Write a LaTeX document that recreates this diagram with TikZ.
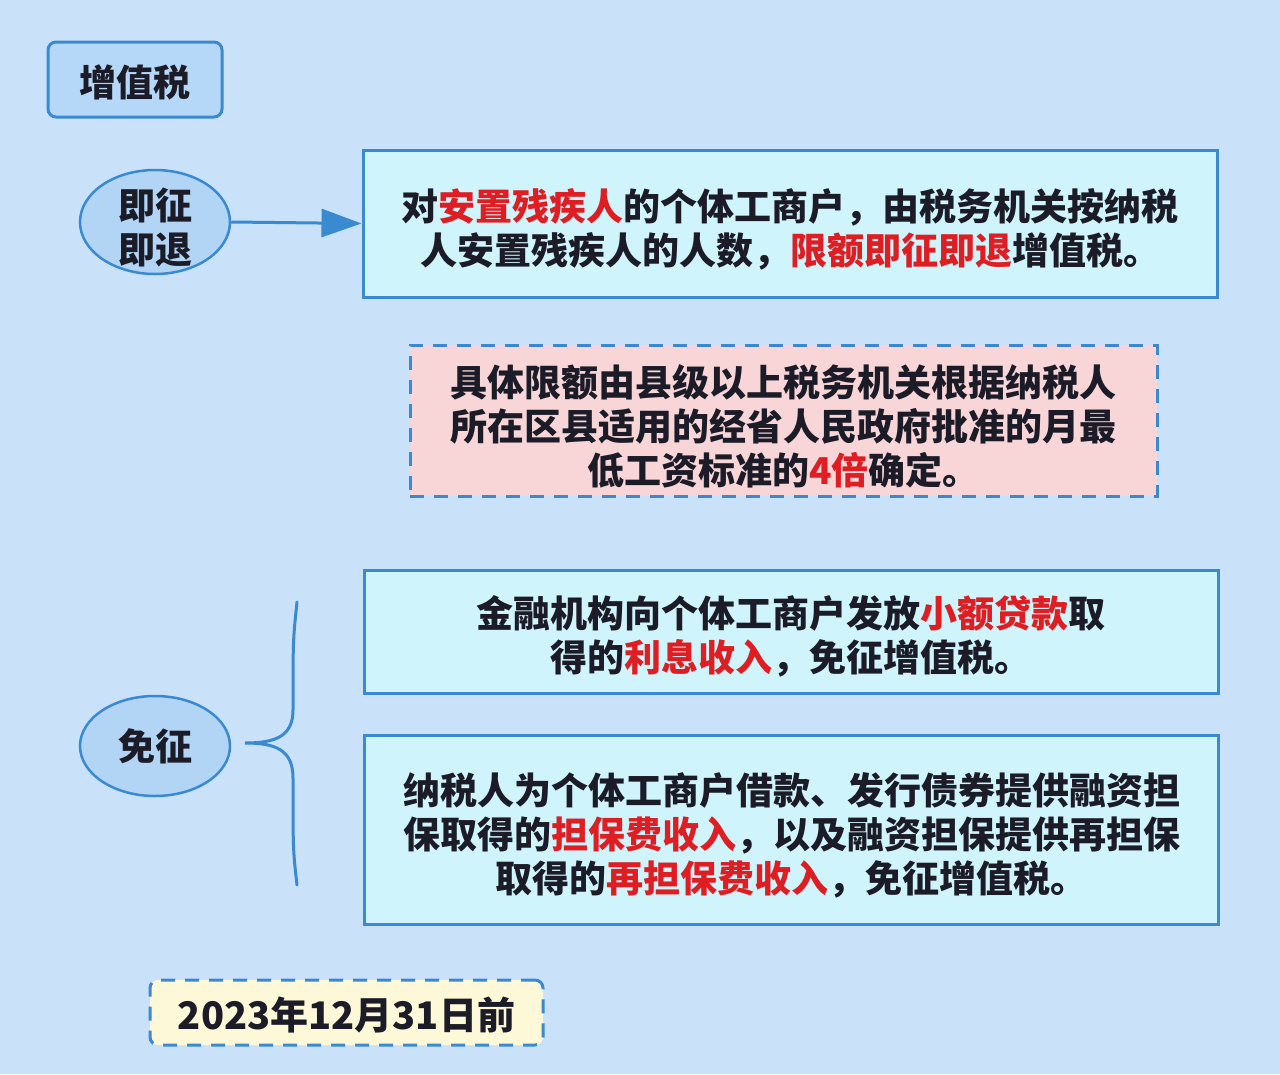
\documentclass[tikz,border=0pt]{standalone}
\usepackage{fontspec}
\setmainfont{Noto Sans CJK SC}
\usetikzlibrary{shapes.geometric,arrows.meta}
\definecolor{bg}{RGB}{201,226,250}
\definecolor{edge}{RGB}{58,138,210}
\definecolor{boxfill}{RGB}{208,244,252}
\definecolor{ellfill}{RGB}{178,213,246}
\definecolor{tagfill}{RGB}{182,216,248}
\definecolor{pinkfill}{RGB}{248,214,216}
\definecolor{yellowfill}{RGB}{252,248,216}
\definecolor{ink}{RGB}{28,28,40}
\definecolor{hl}{RGB}{222,30,34}
\newcommand{\hlt}[1]{\textcolor{hl}{#1}}
\tikzset{
  txt/.style={text=ink,font=\bfseries\fontsize{37}{44}\selectfont,align=center,inner sep=0pt},
  solidbox/.style={draw=edge,line width=3pt,fill=boxfill,minimum width=854pt,inner sep=0pt},
  dashbox/.style={draw=edge,line width=3pt,dash pattern=on 14pt off 10pt,inner sep=0pt},
  ellnode/.style={ellipse,draw=edge,line width=2.5pt,fill=ellfill,minimum width=150pt,minimum height=104pt,inner sep=0pt},
  arrowline/.style={draw=edge,line width=3pt,-{Triangle[length=40pt,width=28pt]}},
  bracestyle/.style={draw=edge,line width=3pt,line cap=round}
}
\begin{document}
\begin{tikzpicture}[x=1pt,y=-1pt]
\fill[bg] (0,0) rectangle (1280,1074);
\useasboundingbox (0,0) rectangle (1280,1074);

\node[draw=edge,line width=3pt,fill=tagfill,rounded corners=8pt,minimum width=174pt,minimum height=75pt] (vat) at (135,79.5) {};
\node[txt] (vatt) at (135,82.5) {增值税};

\node[ellnode] (e1) at (155,222) {};
\node[txt] (e1t) at (155,228) {即征\\即退};
\node[solidbox,minimum height=147pt] (b1) at (790,223.5) {};
\node[txt] (b1t) at (790,229.5)
  {对\hlt{安置残疾人}的个体工商户，由税务机关按纳税\\人安置残疾人的人数，\hlt{限额即征即退}增值税。};
\draw[arrowline] (e1.east) -- (b1.west);

\node[dashbox,fill=pinkfill,minimum width=747pt,minimum height=151pt] (pk) at (783.5,420.5) {};
\node[txt] (pkt) at (783.5,426.5)
  {具体限额由县级以上税务机关根据纳税人\\所在区县适用的经省人民政府批准的月最\\低工资标准的\hlt{4倍}确定。};

\node[ellnode,minimum height=100pt] (e2) at (155,746) {};
\node[txt] (e2t) at (155,746) {免征};
\node[solidbox,minimum height=123pt] (b2) at (791,631.5) {};
\node[txt] (b2t) at (791,636.5)
  {金融机构向个体工商户发放\hlt{小额贷款}取\\得的\hlt{利息收入}，免征增值税。};
\node[solidbox,minimum height=189pt] (b3) at (791.5,829.5) {};
\node[txt] (b3t) at (791.5,835.5)
  {纳税人为个体工商户借款、发行债券提供融资担\\保取得的\hlt{担保费收入}，以及融资担保提供再担保\\取得的\hlt{再担保费收入}，免征增值税。};

\coordinate (brtop) at (297,602);
\coordinate (brtip) at (245,743);
\coordinate (brbot) at (297,885);
\draw[bracestyle] (brtop) .. controls (293,640) .. (293,710)
  .. controls (293,736) and (276,743) .. (brtip)
  .. controls (276,743) and (293,750) .. (293,778)
  .. controls (293,850) .. (brbot);

\node[dashbox,fill=yellowfill,rounded corners=8pt,minimum width=393pt,minimum height=65pt] (dt) at (346.5,1012.5) {};
\node[txt,font=\bfseries\fontsize{38}{44}\selectfont] (dtt) at (346.5,1015) {2023年12月31日前};
\end{tikzpicture}
\end{document}
